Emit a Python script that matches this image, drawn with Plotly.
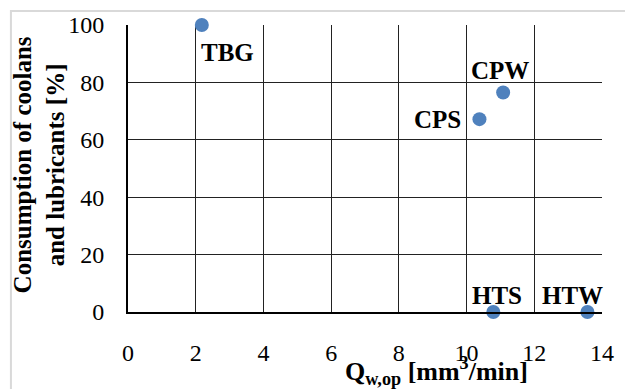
import plotly.graph_objects as go

labels = ["TBG", "CPW", "CPS", "HTS", "HTW"]
q_wop = [2.18, 11.08, 10.38, 10.79, 13.57]
consumption = [100, 76.5, 67.2, 0, 0]
x_ticks = [0, 2, 4, 6, 8, 10, 12, 14]
y_ticks = [0, 20, 40, 60, 80, 100]

# label offsets (pixels) relative to points
label_offsets = {"TBG": (26, -27), "CPW": (-3, 22), "CPS": (-42, 0), "HTS": (4, 17), "HTW": (-15, 17)}

FONT = "'Times New Roman', 'Liberation Serif', serif"

fig = go.Figure()
fig.add_trace(go.Scatter(
    x=q_wop, y=consumption, mode="markers",
    marker=dict(size=14, color="#4F81BD"),
    cliponaxis=False, showlegend=False,
))

annotations = []
for lab, x, y in zip(labels, q_wop, consumption):
    dx, dy = label_offsets[lab]
    annotations.append(dict(
        x=x, y=y, xref="x", yref="y", text="<b>%s</b>" % lab, showarrow=False,
        xshift=dx, yshift=dy, font=dict(family=FONT, size=25, color="black"),
    ))

annotations.append(dict(
    x=0.65, y=-0.205, xref="paper", yref="paper", xanchor="center", yanchor="middle",
    text="<b>Q<sub>w,op</sub> [mm<sup>3</sup>/min]</b>", showarrow=False,
    font=dict(family=FONT, size=26, color="black"),
))
annotations.append(dict(
    x=-0.187, y=0.512, xref="paper", yref="paper", xanchor="center", yanchor="middle",
    text="<b>Consumption of coolans<br>and lubricants [%]</b>", showarrow=False, textangle=-90,
    font=dict(family=FONT, size=25, color="black"),
))

fig.update_layout(
    width=625, height=381,
    margin=dict(l=120, r=31, t=17, b=77),
    paper_bgcolor="white", plot_bgcolor="white",
    font=dict(family=FONT, color="black"),
    annotations=annotations,
    shapes=[dict(type="rect", xref="paper", yref="paper", x0=-0.247, x1=1.059, y0=-0.5, y1=1.049,
                 line=dict(color="#d9d9d9", width=2), layer="below")],
    xaxis=dict(range=[0, 14], tickvals=x_ticks, showgrid=True, gridcolor="#222", gridwidth=1,
               showline=True, linecolor="black", linewidth=2, zeroline=False, automargin=False,
               tickfont=dict(family=FONT, size=24, color="black"), ticks="", ticklabelstandoff=18),
    yaxis=dict(range=[0, 100], tickvals=y_ticks, showgrid=True, gridcolor="#222", gridwidth=1,
               showline=True, linecolor="black", linewidth=2, zeroline=False, mirror=False, automargin=False,
               tickfont=dict(family=FONT, size=24, color="black"), ticks="", ticklabelstandoff=17),
)
fig.write_html("out.html")
